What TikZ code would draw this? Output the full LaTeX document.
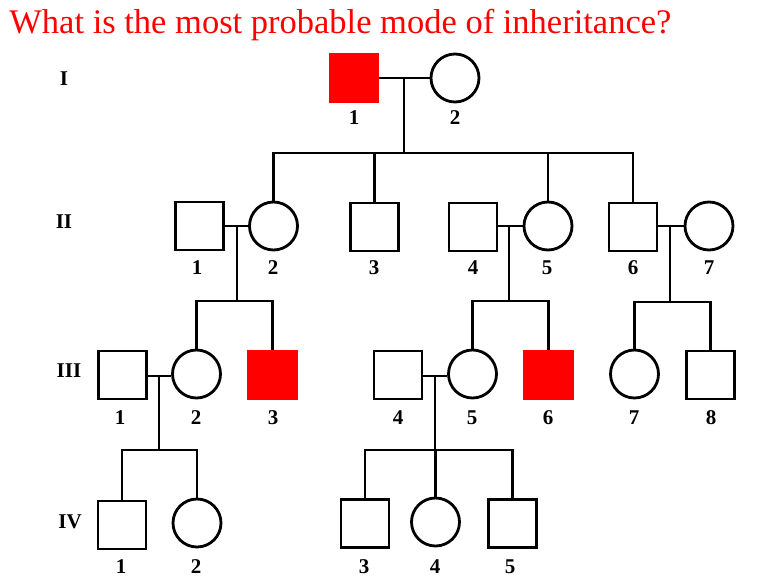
\documentclass[tikz,border=0pt]{standalone}
\usepackage{fontspec}
\setmainfont{Liberation Serif}
\begin{document}
\begin{tikzpicture}[x=1pt,y=-1pt,
  line width=2.8pt,
  male/.style={draw,rectangle,minimum size=48pt,inner sep=0pt},
  female/.style={draw,circle,minimum size=48pt,inner sep=0pt},
  aff/.style={fill=red,draw=red},
  lbl/.style={font=\fontsize{21}{21}\selectfont\bfseries,inner sep=0pt},
  gen/.style={font=\fontsize{21}{21}\selectfont\bfseries,inner sep=0pt}]
\useasboundingbox (0,0) rectangle (774,584);
\node[anchor=base west,inner sep=0pt,text=red,font=\fontsize{34.5}{34.5}\selectfont] (title) at (8,33) {What is the most probable mode of inheritance?};
% generation labels
\node[gen] (gI) at (64,79) {I};
\node[gen] (gII) at (64,222) {II};
\node[gen] (gIII) at (69,371) {III};
\node[gen] (gIV) at (70,522) {IV};
% Generation I
\node[male,aff] (I1) at (354,78) {};
\node[female] (I2) at (455,78) {};
% Generation II
\node[male] (II1) at (199.5,226) {};
\node[female] (II2) at (273.5,226) {};
\node[male] (II3) at (374.5,227) {};
\node[male] (II4) at (473,227) {};
\node[female] (II5) at (548,226) {};
\node[male] (II6) at (633,227) {};
\node[female] (II7) at (709,226) {};
% Generation III
\node[male] (III1) at (122.5,375) {};
\node[female] (III2) at (196.5,374) {};
\node[male,aff] (III3) at (272.5,375) {};
\node[male] (III4) at (398,375) {};
\node[female] (III5) at (472.5,374) {};
\node[male,aff] (III6) at (548.5,375) {};
\node[female] (III7) at (634.5,374) {};
\node[male] (III8) at (710.5,375) {};
% Generation IV
\node[male] (IV1) at (122,525) {};
\node[female] (IV2) at (197,523) {};
\node[male] (IV3) at (365,523.5) {};
\node[female] (IV4) at (435.5,522) {};
\node[male] (IV5) at (512.5,523.5) {};
% number labels
\node[lbl] (lI1) at (354,118) {1};
\node[lbl] (lI2) at (455,118) {2};
\node[lbl] (lII1) at (197,268) {1};
\node[lbl] (lII2) at (273,268) {2};
\node[lbl] (lII3) at (374,268) {3};
\node[lbl] (lII4) at (473,268) {4};
\node[lbl] (lII5) at (547,268) {5};
\node[lbl] (lII6) at (633,268) {6};
\node[lbl] (lII7) at (709,268) {7};
\node[lbl] (lIII1) at (120,418) {1};
\node[lbl] (lIII2) at (196,418) {2};
\node[lbl] (lIII3) at (273,418) {3};
\node[lbl] (lIII4) at (398,418) {4};
\node[lbl] (lIII5) at (472,418) {5};
\node[lbl] (lIII6) at (548,418) {6};
\node[lbl] (lIII7) at (634,418) {7};
\node[lbl] (lIII8) at (711,418) {8};
\node[lbl] (lIV1) at (121,567) {1};
\node[lbl] (lIV2) at (196,567) {2};
\node[lbl] (lIV3) at (364,567) {3};
\node[lbl] (lIV4) at (435,567) {4};
\node[lbl] (lIV5) at (510,567) {5};
% marriage points and sibship points
\coordinate (mI) at (404,78);
\coordinate (sI) at (404,153);
\coordinate (mII12) at (237,226);
\coordinate (sII12) at (237,301);
\coordinate (mII45) at (509,226);
\coordinate (sII45) at (509,301);
\coordinate (mII67) at (670,226);
\coordinate (sII67) at (670,302);
\coordinate (mIII12) at (159,376);
\coordinate (sIII12) at (159,450);
\coordinate (mIII45) at (435,376);
\coordinate (sIII45) at (435,450);
% marriage lines
\draw (I1.east) -- (I2.west);
\draw (II1.east |- II2.west) -- (II2.west);
\draw (II4.east |- II5.west) -- (II5.west);
\draw (II6.east |- II7.west) -- (II7.west);
\draw (III1.east |- mIII12) -- (III2.west |- mIII12);
\draw (III4.east |- mIII45) -- (III5.west |- mIII45);
% descent lines
\draw (mI) -- (sI);
\draw (mII12) -- (sII12);
\draw (mII45) -- (sII45);
\draw (mII67) -- (sII67);
\draw (mIII12) -- (sIII12);
\draw (mIII45) -- (sIII45);
% sibships
\draw (II2.north) -- (II2.north |- sI) -- (II6.north |- sI) -- (II6.north);
\draw (II3.north) -- (II3.north |- sI);
\draw (II5.north) -- (II5.north |- sI);
\draw (III2.north) -- (III2.north |- sII12) -- (III3.north |- sII12) -- (III3.north);
\draw (III5.north) -- (III5.north |- sII45) -- (III6.north |- sII45) -- (III6.north);
\draw (III7.north) -- (III7.north |- sII67) -- (III8.north |- sII67) -- (III8.north);
\draw (IV1.north) -- (IV1.north |- sIII12) -- (IV2.north |- sIII12) -- (IV2.north);
\draw (IV3.north) -- (IV3.north |- sIII45) -- (IV5.north |- sIII45) -- (IV5.north);
\draw (IV4.north) -- (IV4.north |- sIII45);
\end{tikzpicture}
\end{document}
